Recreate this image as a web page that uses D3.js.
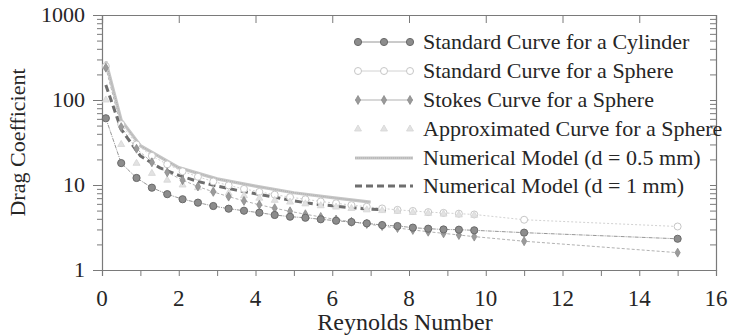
<!DOCTYPE html>
<html>
<head>
<meta charset="utf-8">
<script src="https://cdn.jsdelivr.net/npm/d3@7"></script>
<style>
  body { margin: 0; background: #fff; }
  svg text { font-family: "Liberation Serif", "Times New Roman", Times, serif; fill: #262626; }
</style>
</head>
<body>
<div id="chart"></div>
<script>
// Reynolds number grid used by the standard / Stokes / approx series
const reGrid = [0.1, 0.5, 0.9, 1.3, 1.7, 2.1, 2.5, 2.9, 3.3, 3.7, 4.1, 4.5, 4.9,
  5.3, 5.7, 6.1, 6.5, 6.9, 7.3, 7.7, 8.1, 8.5, 8.9, 9.3, 9.7, 11, 15];

const cylinderCd = [61, 18.1, 12.1, 9.3, 7.8, 6.8, 6.2, 5.66, 5.26, 4.98, 4.72, 4.44, 4.24,
  4.12, 3.95, 3.8, 3.67, 3.54, 3.38, 3.29, 3.15, 3.06, 3.0, 2.98, 2.93, 2.75, 2.33];
const sphereCd = [250, 52, 30, 22, 17.5, 14.5, 12.5, 11.0, 9.9, 9.0, 8.3, 7.7, 7.2,
  6.8, 6.4, 6.1, 5.8, 5.55, 5.3, 5.1, 4.95, 4.8, 4.7, 4.6, 4.5, 3.9, 3.25];
const stokesCd = [240, 48, 26.7, 18.5, 14.1, 11.4, 9.6, 8.3, 7.3, 6.5, 5.85, 5.33, 4.9,
  4.53, 4.21, 3.93, 3.69, 3.48, 3.29, 3.12, 2.96, 2.82, 2.7, 2.58, 2.47, 2.18, 1.6];
const approxRe = [0.1, 0.5, 0.9, 1.3, 1.7, 2.1, 2.5, 2.9, 3.3, 3.7, 4.1, 4.5, 4.9,
  5.3, 5.7, 6.1, 6.5, 6.9, 7.3, 7.7, 8.1, 8.5, 8.9, 9.3, 9.7];
const approxCd = [100, 30, 18, 13.7, 11.4, 10, 9.3, 8.6, 8.0, 7.5, 7.0, 6.6, 6.3,
  6.0, 5.7, 5.5, 5.3, 5.1, 5.0, 4.9, 4.75, 4.64, 4.55, 4.45, 4.4];

const num05Re = [0.1, 0.5, 1, 2, 3, 4, 5, 6, 7];
const num05Cd = [285, 58, 29, 16, 11.8, 9.7, 8.1, 7.1, 6.3];
const num1Re = [0.1, 0.5, 1, 1.5, 2, 2.5, 3, 3.5, 4, 4.5, 5, 5.5, 6, 6.5, 7, 7.4];
const num1Cd = [150, 45, 22, 16, 13, 11.0, 9.7, 8.7, 7.9, 7.2, 6.5, 6.0, 5.7, 5.4, 5.2, 5.08];

const xTicks = [0, 2, 4, 6, 8, 10, 12, 14, 16];
const yTicks = [1, 10, 100, 1000];
const legendLabels = [
  'Standard Curve for a Cylinder',
  'Standard Curve for a Sphere',
  'Stokes Curve for a Sphere',
  'Approximated Curve for a Sphere',
  'Numerical Model (d = 0.5 mm)',
  'Numerical Model (d = 1 mm)'
];

const width = 733, height = 336;
const margin = { top: 15, right: 17, bottom: 66, left: 102 };
const serif = '"Liberation Serif", "Times New Roman", Times, serif';

const svg = d3.select('#chart').append('svg')
  .attr('width', width)
  .attr('height', height)
  .attr('font-family', serif);

const x = d3.scaleLinear().domain([0, 16]).range([margin.left, width - margin.right]);
const y = d3.scaleLog().domain([1, 1000]).range([height - margin.bottom, margin.top]);

const axisColor = '#7a7a7a';

// minor tick values for the log axis
const minorY = [];
[1, 10, 100].forEach(function (d) {
  for (let k = 2; k <= 9; k++) minorY.push(d * k);
});
const unitX = d3.range(0, 17, 1);

// bottom axis, ticks outward
const bottomAxis = svg.append('g').attr('transform', `translate(0,${y(1)})`)
  .call(d3.axisBottom(x).tickValues(unitX).tickSize(6).tickFormat(''));
// left axis, ticks outward
const leftAxis = svg.append('g').attr('transform', `translate(${x(0)},0)`)
  .call(d3.axisLeft(y).tickValues(yTicks).tickSize(9).tickFormat(''));
const leftMinor = svg.append('g').attr('transform', `translate(${x(0)},0)`)
  .call(d3.axisLeft(y).tickValues(minorY).tickSize(5).tickFormat(''));
// top axis, ticks inward
const topAxis = svg.append('g').attr('transform', `translate(0,${y(1000)})`)
  .call(d3.axisTop(x).tickValues(xTicks).tickSize(-8).tickFormat(''));
// right axis, ticks inward
const rightAxis = svg.append('g').attr('transform', `translate(${x(16)},0)`)
  .call(d3.axisRight(y).tickValues(minorY.concat(yTicks)).tickSize(-6).tickFormat(''));

[bottomAxis, leftAxis, leftMinor, topAxis, rightAxis].forEach(function (g) {
  g.select('.domain').attr('stroke', axisColor).attr('stroke-width', 1.2);
  g.selectAll('.tick line').attr('stroke', axisColor);
});
leftMinor.select('.domain').remove();

// tick labels
svg.append('g').selectAll('text').data(xTicks).join('text')
  .attr('x', d => x(d))
  .attr('y', 306)
  .attr('text-anchor', 'middle')
  .attr('font-size', 23)
  .text(d => d);

svg.append('g').selectAll('text').data(yTicks).join('text')
  .attr('x', 85)
  .attr('y', d => y(d) + 7)
  .attr('text-anchor', 'end')
  .attr('font-size', 22)
  .text(d => d);

// axis titles
svg.append('text')
  .attr('x', 405)
  .attr('y', 330)
  .attr('text-anchor', 'middle')
  .attr('font-size', 24)
  .text('Reynolds Number');

svg.append('text')
  .attr('transform', `translate(25,${(y(1) + y(1000)) / 2}) rotate(-90)`)
  .attr('text-anchor', 'middle')
  .attr('font-size', 22)
  .text('Drag Coefficient');

const line = d3.line().x(d => x(d[0])).y(d => y(d[1]));

function zip(xs, ys) {
  return xs.map((v, i) => [v, ys[i]]);
}

const plot = svg.append('g');

// series styles; row = legend row
const series = [
  { row: 1, data: zip(reGrid, sphereCd), stroke: '#d2d2d2', width: 1, dash: '2,2', marker: 'open', fill: '#fff', mstroke: '#c6c6c6', r: 3.5 },
  { row: 3, data: zip(approxRe, approxCd), stroke: 'none', width: 0, dash: null, marker: 'tri', fill: '#e2e2e2', mstroke: '#d6d6d6', r: 2.3 },
  { row: 2, data: zip(reGrid, stokesCd), stroke: '#a8a8a8', width: 0.9, dash: '3,2', marker: 'diamond', fill: '#9a9a9a', mstroke: '#8a8a8a', r: 2.4 },
  { row: 0, data: zip(reGrid, cylinderCd), stroke: '#8a8a8a', width: 0.9, dash: '4,1,1,1', marker: 'circle', fill: '#8c8c8c', mstroke: '#6a6a6a', r: 3.6 }
];

const symbolFor = {
  tri: d3.symbolTriangle,
  diamond: d3.symbolDiamond
};

function drawMarker(g, s, px, py) {
  if (s.marker === 'circle' || s.marker === 'open') {
    g.append('circle').attr('cx', px).attr('cy', py).attr('r', s.r)
      .attr('fill', s.fill).attr('stroke', s.mstroke).attr('stroke-width', 1);
  } else {
    g.append('path')
      .attr('d', d3.symbol().type(symbolFor[s.marker]).size(s.r * s.r * 4)())
      .attr('transform', `translate(${px},${py})`)
      .attr('fill', s.fill).attr('stroke', s.mstroke).attr('stroke-width', 0.8);
  }
}

series.forEach(function (s) {
  if (s.stroke !== 'none') {
    plot.append('path').datum(s.data)
      .attr('d', line)
      .attr('fill', 'none')
      .attr('stroke', s.stroke)
      .attr('stroke-width', s.width)
      .attr('stroke-dasharray', s.dash);
  }
});

// numerical models
plot.append('path').datum(zip(num05Re, num05Cd))
  .attr('d', line).attr('fill', 'none')
  .attr('stroke', '#c6c6c6').attr('stroke-width', 3.2);
plot.append('path').datum(zip(num05Re, num05Cd))
  .attr('d', line).attr('fill', 'none')
  .attr('stroke', '#a9a9a9').attr('stroke-width', 0.8).attr('stroke-dasharray', '1,1');
plot.append('path').datum(zip(num1Re, num1Cd))
  .attr('d', line).attr('fill', 'none')
  .attr('stroke', '#6e6e6e').attr('stroke-width', 3)
  .attr('stroke-dasharray', '7,4');

series.forEach(function (s) {
  const g = plot.append('g');
  s.data.forEach(function (d) {
    drawMarker(g, s, x(d[0]), y(d[1]));
  });
});

// legend
const legend = svg.append('g');
const rowY = [42, 71, 100, 129, 158, 186];
const symX = [358, 384, 410];
series.forEach(function (s) {
  const g = legend.append('g');
  const ry = rowY[s.row];
  if (s.stroke !== 'none') {
    g.append('line').attr('x1', 355).attr('x2', 413)
      .attr('y1', ry).attr('y2', ry)
      .attr('stroke', s.stroke).attr('stroke-width', s.width);
  }
  symX.forEach(function (sx) { drawMarker(g, s, sx, ry); });
});
legend.append('line').attr('x1', 355).attr('x2', 413)
  .attr('y1', rowY[4]).attr('y2', rowY[4])
  .attr('stroke', '#c6c6c6').attr('stroke-width', 3.2);
legend.append('line').attr('x1', 355).attr('x2', 413)
  .attr('y1', rowY[4]).attr('y2', rowY[4])
  .attr('stroke', '#a9a9a9').attr('stroke-width', 0.8).attr('stroke-dasharray', '1,1');
legend.append('line').attr('x1', 355).attr('x2', 413)
  .attr('y1', rowY[5]).attr('y2', rowY[5])
  .attr('stroke', '#6e6e6e').attr('stroke-width', 3).attr('stroke-dasharray', '7,4');

legend.selectAll('text.lab').data(legendLabels).join('text')
  .attr('class', 'lab')
  .attr('x', 423)
  .attr('y', (d, i) => rowY[i] + 7)
  .attr('font-size', 22)
  .text(d => d);
</script>
</body>
</html>
